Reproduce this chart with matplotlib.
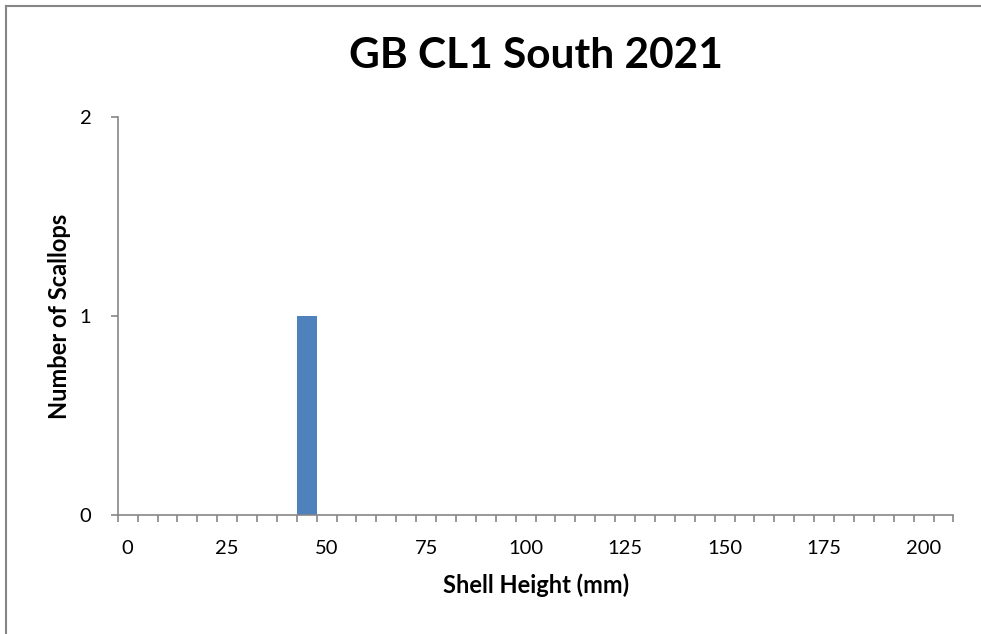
import matplotlib.pyplot as plt
from matplotlib.lines import Line2D
import numpy as np

plt.rcParams['font.family'] = ['Lato', 'DejaVu Sans']

# shell height bins (mm), one category per 5 mm
bins = [0, 5, 10, 15, 20, 25, 30, 35, 40, 45, 50, 55, 60, 65, 70, 75, 80, 85, 90, 95,
        100, 105, 110, 115, 120, 125, 130, 135, 140, 145, 150, 155, 160, 165, 170, 175,
        180, 185, 190, 195, 200, 205]
counts = [0, 0, 0, 0, 0, 0, 0, 0, 0, 1, 0, 0, 0, 0, 0, 0, 0, 0, 0, 0,
          0, 0, 0, 0, 0, 0, 0, 0, 0, 0, 0, 0, 0, 0, 0, 0,
          0, 0, 0, 0, 0, 0]
label_every = 5
y_ticks = [0, 1, 2]

grey = '#868686'
W, H = 981, 634

fig = plt.figure(figsize=(W / 100, H / 100), dpi=100, facecolor='white')
ax = fig.add_axes([117.7 / W, 1 - 515 / H, (953.5 - 117.7) / W, (515 - 117) / H])

# chart frame: only the left and top edges fall inside the picture
fx, fy = 5.5 / W, 1 - 5.5 / H
fig.add_artist(Line2D([fx, fx], [0, fy], transform=fig.transFigure, color=grey, lw=1.5))
fig.add_artist(Line2D([fx, 1], [fy, fy], transform=fig.transFigure, color=grey, lw=1.5))

idx = np.arange(len(bins))
ax.bar(idx, counts, width=1.0, align='edge', color='#4F81BD', edgecolor='none')

ax.set_xlim(0, len(bins))
ax.set_ylim(0, 2)

for s in ['top', 'right']:
    ax.spines[s].set_visible(False)
for s in ['left', 'bottom']:
    ax.spines[s].set_color(grey)
    ax.spines[s].set_linewidth(1.2)

# category boundaries as tick marks, labels at category centres
ax.set_xticks(np.arange(len(bins) + 1))
ax.set_xticklabels([])
ax.tick_params(axis='x', which='major', direction='out', length=5, width=1.2, color=grey)
lab_pos = [i + 0.5 for i in range(0, len(bins), label_every)]
ax.set_xticks(lab_pos, minor=True)
ax.set_xticklabels([str(bins[i]) for i in range(0, len(bins), label_every)], minor=True)
ax.tick_params(axis='x', which='minor', length=0, pad=18, labelsize=14.5)

ax.set_yticks(y_ticks)
ax.set_yticklabels([str(v) for v in y_ticks])
ax.tick_params(axis='y', direction='out', length=5, width=1.2, color=grey, pad=14, labelsize=14.5)

ax.set_title('GB CL1 South 2021', fontsize=30.5, fontweight='bold', pad=35)
ax.set_xlabel('Shell Height (mm)', fontsize=17, fontweight='bold', labelpad=12)
ax.set_ylabel('Number of Scallops', fontsize=17, fontweight='bold', labelpad=6)

fig.savefig('out.png', dpi=100, facecolor='white')
